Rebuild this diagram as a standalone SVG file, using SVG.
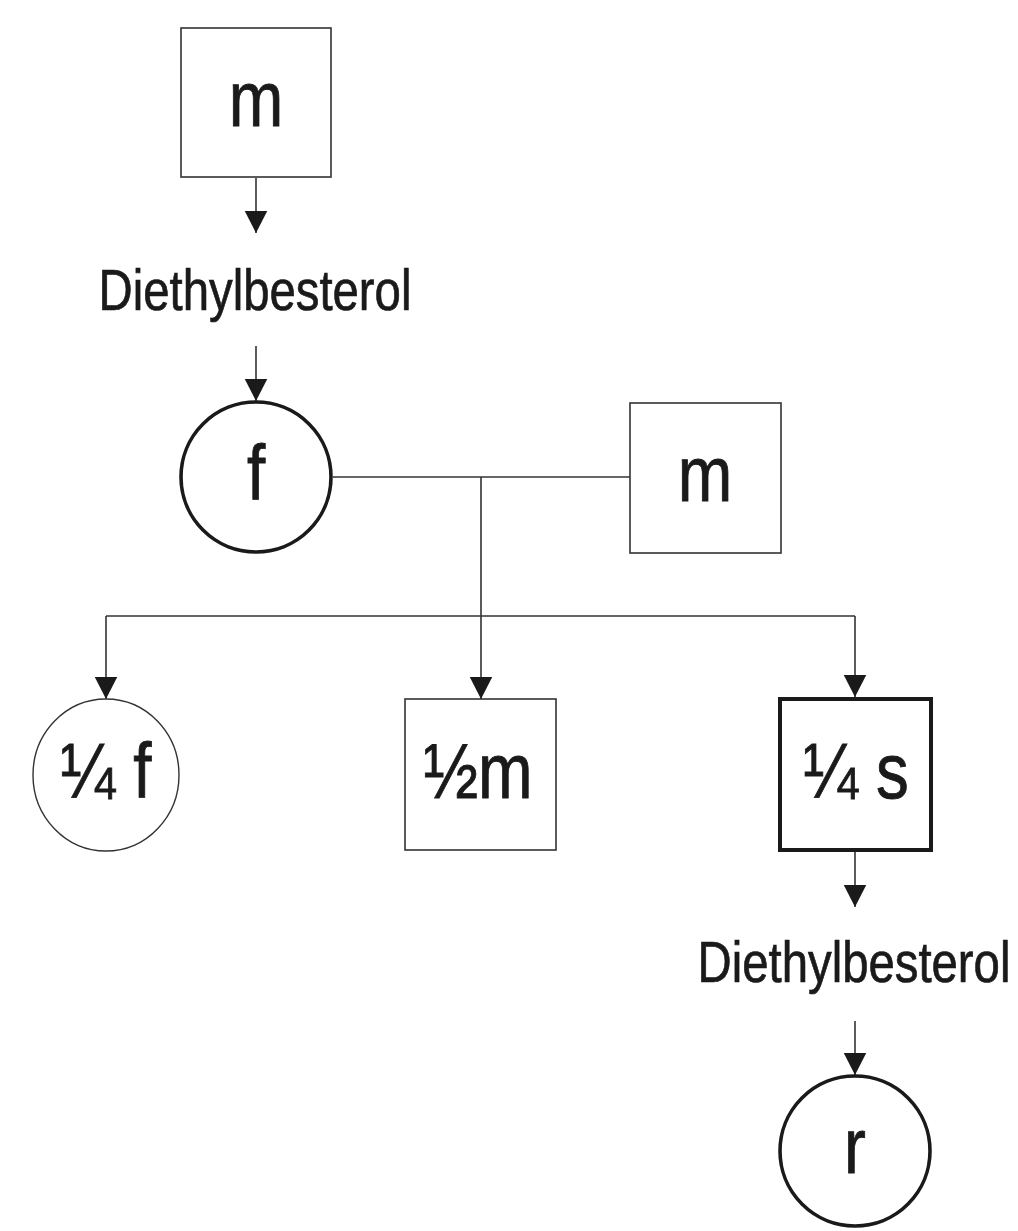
<svg xmlns="http://www.w3.org/2000/svg" width="1018" height="1231" viewBox="0 0 1018 1231">
  <style>
    .box { fill: #fff; stroke: #333; stroke-width: 1.6; }
    .bold { fill: #fff; stroke: #1a1a1a; stroke-width: 4; }
    .ring { fill: #fff; stroke: #1a1a1a; stroke-width: 3.6; }
    .thin { fill: #fff; stroke: #333; stroke-width: 1.4; }
    .line { fill: none; stroke: #333; stroke-width: 1.6; }
    .head { fill: #1a1a1a; }
    .sym { font-family: "Liberation Sans", Arial, sans-serif; font-size: 78px; fill: #1a1a1a; stroke: #1a1a1a; stroke-width: 0.9; text-anchor: middle; }
    .lbl { font-family: "Liberation Sans", Arial, sans-serif; font-size: 57px; fill: #1a1a1a; stroke: #1a1a1a; stroke-width: 0.7; text-anchor: middle; }
  </style>
  <defs>
    <!-- filled triangular head, tip at the end of the path -->
    <marker id="arrow" markerUnits="userSpaceOnUse" markerWidth="23" markerHeight="24" viewBox="0 0 23 24" refX="22.5" refY="12" orient="auto">
      <path d="M0,0.5 L22.5,12 L0,23.5 Z" class="head"/>
    </marker>
  </defs>

  <!-- connectors -->
  <g id="connectors">
    <path class="line" d="M256,178 V233" marker-end="url(#arrow)"/>
    <path class="line" d="M256,346 V401" marker-end="url(#arrow)"/>
    <path class="line" d="M333,477 H630"/>
    <path class="line" d="M481,477 V699" marker-end="url(#arrow)"/>
    <path class="line" d="M106,616 H855"/>
    <path class="line" d="M106,616 V699" marker-end="url(#arrow)"/>
    <path class="line" d="M855,616 V697" marker-end="url(#arrow)"/>
    <path class="line" d="M855,852 V907" marker-end="url(#arrow)"/>
    <path class="line" d="M855,1021 V1075" marker-end="url(#arrow)"/>
  </g>

  <!-- grandfather -->
  <g id="node-m-top">
    <rect class="box" x="181" y="28" width="150" height="149"/>
    <text class="sym" transform="translate(256,126) scale(0.84,1)">m</text>
  </g>

  <g id="label-des-1">
    <text class="lbl" transform="translate(255,310) scale(0.83,1)">Diethylbesterol</text>
  </g>

  <!-- exposed mother -->
  <g id="node-f">
    <circle class="ring" cx="256" cy="477" r="75"/>
    <text class="sym" transform="translate(256,500) scale(0.84,1)">f</text>
  </g>

  <!-- partner -->
  <g id="node-m-partner">
    <rect class="box" x="630" y="403" width="151" height="150"/>
    <text class="sym" transform="translate(705,501) scale(0.84,1)">m</text>
  </g>

  <!-- offspring -->
  <g id="node-quarter-f">
    <ellipse class="thin" cx="106" cy="775" rx="73" ry="76"/>
    <text class="sym" transform="translate(106,798) scale(0.84,1)">¼ f</text>
  </g>

  <g id="node-half-m">
    <rect class="box" x="405" y="699" width="151" height="151"/>
    <text class="sym" transform="translate(478,798) scale(0.84,1)">½m</text>
  </g>

  <g id="node-quarter-s">
    <rect class="bold" x="780" y="699" width="151" height="151"/>
    <text class="sym" transform="translate(856,798) scale(0.84,1)">¼ s</text>
  </g>

  <g id="label-des-2">
    <text class="lbl" transform="translate(854,982) scale(0.83,1)">Diethylbesterol</text>
  </g>

  <g id="node-r">
    <circle class="ring" cx="855" cy="1151" r="75"/>
    <text class="sym" transform="translate(855,1173) scale(0.84,1)">r</text>
  </g>
</svg>
